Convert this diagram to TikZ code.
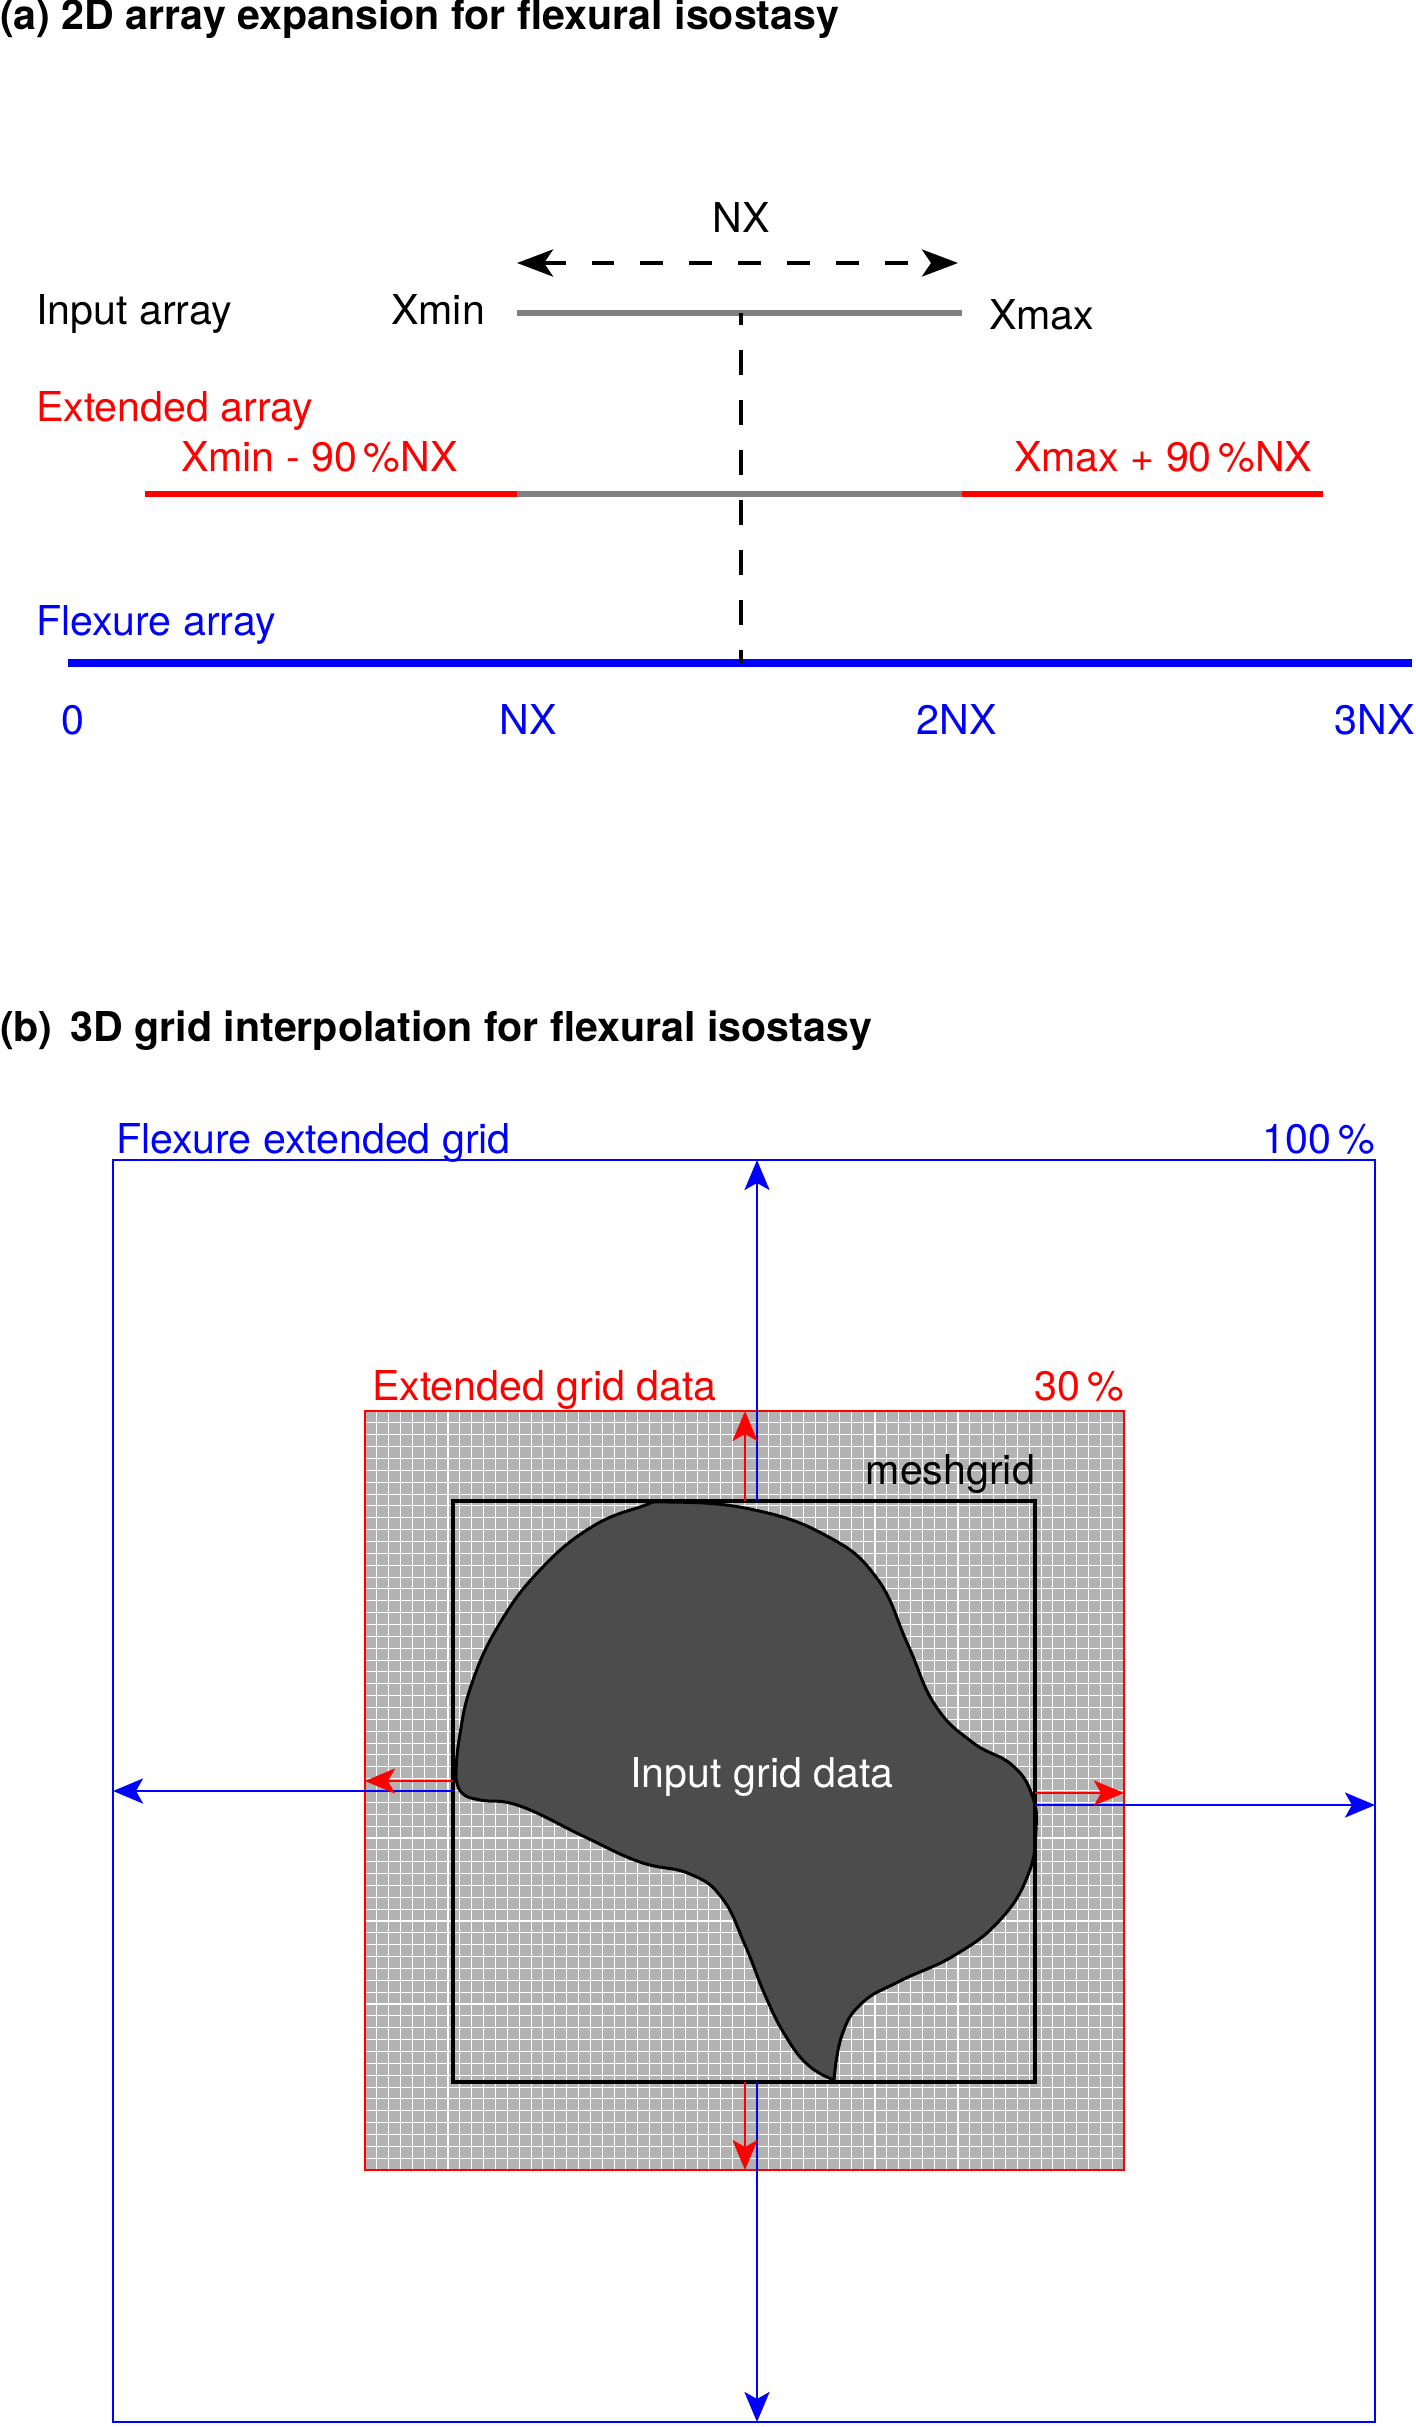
\documentclass[tikz,border=0pt]{standalone}
\usepackage{fontspec}
\setmainfont{TeX Gyre Heros}
\usetikzlibrary{arrows.meta}

\begin{document}
\begin{tikzpicture}[x=0.01cm, y=-0.01cm, >={Stealth[length=3mm, width=2.5mm, inset=0.7mm]},
  every node/.style={font=\fontsize{11.7}{14}\selectfont, inner sep=0pt, outer sep=0pt},
  paneltitle/.style={font=\fontsize{11.7}{14}\selectfont\bfseries, anchor=base west},
  lab/.style={anchor=base west},
  bluearr/.style={->, blue, line width=0.75pt},
  redarr/.style={->, red, line width=0.75pt},
  gridline/.style={white, line width=0.3pt}]
  \useasboundingbox (0,0) rectangle (1416,2427);

  % (a) 2D array expansion
  \node[paneltitle] (ttla) at (0,30) {(a) 2D array expansion for flexural isostasy};
  \coordinate (arrL) at (517,263);
  \coordinate (arrR) at (958,263);
  \coordinate (inL) at (517,313);
  \coordinate (inR) at (962,313);
  \coordinate (extL) at (145,494);
  \coordinate (extR) at (1323,494);
  \coordinate (flexL) at (68,663);
  \coordinate (flexR) at (1412,663);
  \coordinate (midT) at (741,313);
  \coordinate (midB) at (741,663);

  \draw[<->, >={Stealth[length=3.6mm, width=2.7mm, inset=0.9mm]}, line width=1.1pt, dash pattern=on 6.5pt off 7.4pt] (arrL) -- (arrR);
  \draw[gray, line width=1.7pt] (inL) -- (inR);
  \draw[red, line width=1.7pt] (extL) -- (extR);
  \draw[gray, line width=1.7pt] (inL |- extL) -- (inR |- extL);
  \draw[blue, line width=2pt] (flexL) -- (flexR);
  \draw[line width=1.1pt, dash pattern=on 7.1pt off 7.1pt, dash phase=3.7pt] (midT) -- (midB);

  \node[anchor=base] (nx) at (741,232) {NX};
  \node[lab] (inlab) at (36,324) {Input array};
  \node[anchor=base east] (xmin) at (485,324) {Xmin};
  \node[lab] (xmax) at (989,329) {Xmax};
  \node[lab, red] (extlab) at (36,421) {Extended array};
  \node[lab, red] (xminext) at (181,471) {Xmin - 90\,\%NX};
  \node[lab, red] (xmaxext) at (1014,471) {Xmax + 90\,\%NX};
  \node[lab, blue] (flexlab) at (36,635) {Flexure array};
  \node[anchor=base, blue] (nx0) at (73,734) {0};
  \node[anchor=base, blue] (nx1) at (528,734) {NX};
  \node[anchor=base, blue] (nx2) at (957,734) {2NX};
  \node[anchor=base east, blue] (nx3) at (1415,734) {3NX};

  % (b) 3D grid interpolation
  \node[paneltitle] (ttlb) at (0,1041) {(b) \,3D grid interpolation for flexural isostasy};
  \coordinate (fxNW) at (113,1160);
  \coordinate (fxSE) at (1375,2422);
  \coordinate (exNW) at (365,1411);
  \coordinate (exSE) at (1124,2170);
  \coordinate (msNW) at (453,1501);
  \coordinate (msSE) at (1035,2082);

  \draw[blue, line width=0.6pt] (fxNW) rectangle (fxSE);
  \fill[black!30] (exNW) rectangle (exSE);
  \foreach \i in {1,...,63} {
    \draw[gridline] ({365+11.86*\i},1411) -- ({365+11.86*\i},2170);
    \draw[gridline] (365,{1411+11.86*\i}) -- (1124,{1411+11.86*\i});
  }
  \draw[red, line width=0.5pt] (exNW) rectangle (exSE);

  % input grid data outline
  \filldraw[fill=black!70, draw=black, line width=0.85pt]
    plot[smooth, tension=0.75] coordinates {(456,1778) (459,1740) (472,1683) (500,1623) (540,1570) (590,1528) (640,1507) (669,1502)
      (750,1509) (825,1535) (876,1577) (908,1645) (935,1705) (972,1742) (1012,1765) (1032,1795) (1036,1830)
      (1028,1875) (1000,1920) (955,1955) (900,1981) (862,2003) (842,2035) (834,2080)}
    -- plot[smooth, tension=0.75] coordinates {(834,2080) (808,2065) (785,2035) (765,1995) (745,1945) (722,1898) (690,1874)
      (640,1862) (585,1837) (520,1806) (480,1800) (462,1793) (456,1778)}
    -- cycle;
  \draw[line width=1pt] (msNW) rectangle (msSE);

  \coordinate (bx) at (757,0);
  \coordinate (rx) at (745,0);
  \coordinate (byl) at (0,1791);
  \coordinate (byr) at (0,1805);
  \coordinate (ryl) at (0,1781);
  \coordinate (ryr) at (0,1793);
  \draw[bluearr] (msNW -| bx) -- (fxNW -| bx);
  \draw[bluearr] (msSE -| bx) -- (fxSE -| bx);
  \draw[bluearr] (msNW |- byl) -- (fxNW |- byl);
  \draw[bluearr] (msSE |- byr) -- (fxSE |- byr);
  \draw[redarr] (msNW -| rx) -- (exNW -| rx);
  \draw[redarr] (msSE -| rx) -- (exSE -| rx);
  \draw[redarr] (msNW |- ryl) -- (exNW |- ryl);
  \draw[redarr] (msSE |- ryr) -- (exSE |- ryr);

  \node[lab, blue] (fxlab) at (116,1153) {Flexure extended grid};
  \node[anchor=base east, blue] (fxpct) at (1375,1153) {100\,\%};
  \node[lab, red] (exlab) at (372,1400) {Extended grid data};
  \node[anchor=base east, red] (expct) at (1124,1400) {30\,\%};
  \node[anchor=base east] (mslab) at (1035,1484) {meshgrid};
  \node[anchor=base, white] (inglab) at (762,1787) {Input grid data};
\end{tikzpicture}
\end{document}
